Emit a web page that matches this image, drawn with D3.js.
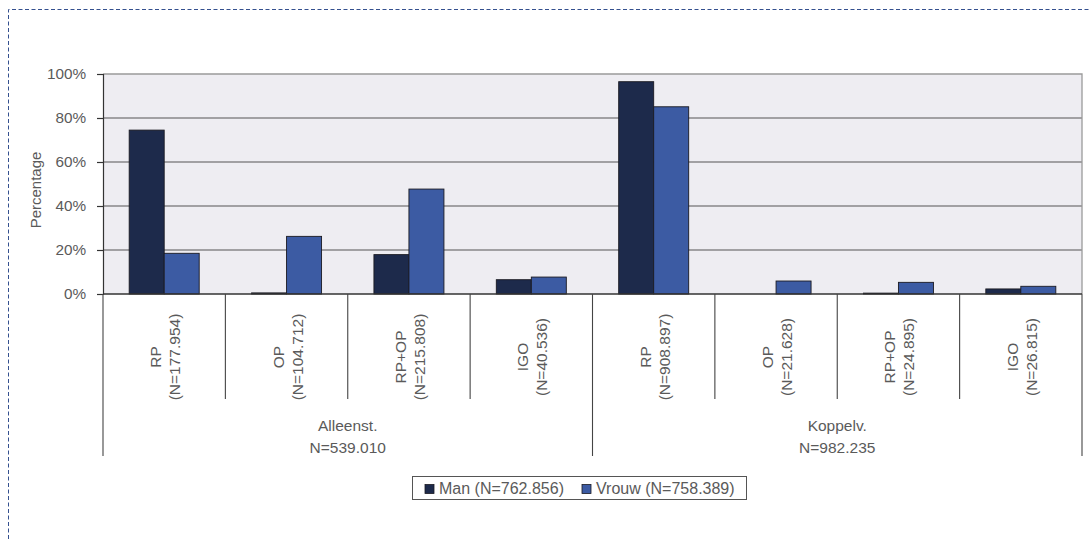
<!DOCTYPE html>
<html>
<head>
<meta charset="utf-8">
<script src="https://cdn.jsdelivr.net/npm/d3@7"></script>
<style>
  html, body { margin: 0; padding: 0; background: #fff; }
  svg { display: block; }
  text { font-family: "Liberation Sans", Arial, sans-serif; fill: #5a5a5a; }
</style>
</head>
<body>
<svg id="chart" width="1090" height="539"></svg>
<script>
// Household groups and their totals
const groups = ["Alleenst.", "Koppelv."];
const groupTotals = ["N=539.010", "N=982.235"];
// Pension types per group
const pensionTypes = ["RP", "OP", "RP+OP", "IGO"];
const categoryTotals = ["(N=177.954)", "(N=104.712)", "(N=215.808)", "(N=40.536)",
                        "(N=908.897)", "(N=21.628)", "(N=24.895)", "(N=26.815)"];
// Percentages per series, in category order
const manValues   = [74.5, 0.5, 17.9, 6.5, 96.5, 0.0, 0.4, 2.3];
const vrouwValues = [18.5, 26.2, 47.7, 7.7, 85.1, 5.9, 5.3, 3.5];
const seriesNames = ["Man (N=762.856)", "Vrouw (N=758.389)"];
const seriesColors = ["#1d2a4b", "#3c5ba3"];
const yTicks = [0, 20, 40, 60, 80, 100];

const categories = [];
groups.forEach((g, gi) => pensionTypes.forEach((t, ti) => {
  const i = gi * pensionTypes.length + ti;
  categories.push({ key: g + "|" + t, group: g, type: t, total: categoryTotals[i],
                    values: [manValues[i], vrouwValues[i]] });
}));

const svg = d3.select("#chart");
const plotLeft = 103, plotRight = 1082, plotTop = 74, plotBottom = 294;

// Dashed frame
svg.append("path")
  .attr("d", "M8.5,539 V9.5 H1090")
  .attr("fill", "none")
  .attr("stroke", "#34508f")
  .attr("stroke-width", 1)
  .attr("stroke-dasharray", "4,2.5");

const x = d3.scaleBand().domain(categories.map(d => d.key)).range([plotLeft, plotRight]);
const bw = x.bandwidth();
const xInner = d3.scaleBand().domain([0, 1]).range([bw * 0.214, bw * 0.786]);
const y = d3.scaleLinear().domain([0, 100]).range([plotBottom, plotTop]);

// Plot background
svg.append("rect")
  .attr("x", plotLeft).attr("y", plotTop)
  .attr("width", plotRight - plotLeft).attr("height", plotBottom - plotTop)
  .attr("fill", "#eeedf2");

// Gridlines
svg.append("g").selectAll("line")
  .data(yTicks.filter(v => v > 0 && v < 100))
  .join("line")
  .attr("x1", plotLeft).attr("x2", plotRight)
  .attr("y1", d => y(d)).attr("y2", d => y(d))
  .attr("stroke", "#555")
  .attr("stroke-width", 1.2);

// Top and right plot border
svg.append("path")
  .attr("d", `M${plotLeft},${y(100)} H${plotRight} V${plotBottom}`)
  .attr("fill", "none")
  .attr("stroke", "#9a9a9a")
  .attr("stroke-width", 1.3);

// Bars
const catG = svg.append("g").selectAll("g")
  .data(categories)
  .join("g")
  .attr("transform", d => `translate(${x(d.key)},0)`);

catG.selectAll("rect")
  .data(d => d.values.map((v, i) => ({ v, i })))
  .join("rect")
  .attr("x", d => xInner(d.i))
  .attr("y", d => y(d.v))
  .attr("width", xInner.bandwidth())
  .attr("height", d => y(0) - y(d.v))
  .attr("fill", d => seriesColors[d.i])
  .attr("stroke", "#1a1a22")
  .attr("stroke-width", d => d.v > 0 ? 0.9 : 0);

// Y axis
const yAxis = svg.append("g")
  .attr("transform", `translate(${plotLeft},0)`)
  .call(d3.axisLeft(y).tickValues(yTicks).tickFormat(d => d + "%").tickSize(6).tickPadding(11));
yAxis.select(".domain").attr("stroke", "#333").attr("stroke-width", 1.2);
yAxis.selectAll(".tick line").attr("stroke", "#333").attr("stroke-width", 1.2);
yAxis.selectAll(".tick text")
  .attr("fill", "#5a5a5a")
  .style("font-size", "15.3px")
  .style("font-family", "'Liberation Sans', Arial, sans-serif");

svg.append("text")
  .attr("transform", "translate(41,190) rotate(-90)")
  .attr("text-anchor", "middle")
  .style("font-size", "15px")
  .text("Percentage");

// Baseline
svg.append("line")
  .attr("x1", plotLeft).attr("x2", plotRight)
  .attr("y1", plotBottom).attr("y2", plotBottom)
  .attr("stroke", "#333").attr("stroke-width", 1.3);

// Category separators below the axis
const bounds = x.domain().map(k => x(k)).concat([plotRight]);
svg.append("g").selectAll("line")
  .data(bounds.map((bx, i) => ({ bx, long: i % pensionTypes.length === 0 })))
  .join("line")
  .attr("x1", d => d.bx).attr("x2", d => d.bx)
  .attr("y1", plotBottom)
  .attr("y2", d => d.long ? 456 : 399)
  .attr("stroke", "#444")
  .attr("stroke-width", 1.1);

// Category labels (rotated, two lines)
svg.append("g").selectAll("text")
  .data(categories)
  .join("text")
  .attr("transform", d => `translate(${x(d.key) + bw / 2},357) rotate(-90)`)
  .attr("text-anchor", "middle")
  .style("font-size", "15.5px")
  .each(function (d) {
    const t = d3.select(this);
    t.append("tspan").attr("x", 0).attr("dy", -3).text(d.type);
    t.append("tspan").attr("x", 0).attr("dy", 19).text(d.total);
  });

// Group labels
svg.append("g").selectAll("text")
  .data(groups)
  .join("text")
  .attr("x", (g, i) => (bounds[i * 4] + bounds[i * 4 + 4]) / 2)
  .attr("y", 431)
  .attr("text-anchor", "middle")
  .style("font-size", "15.5px")
  .each(function (g, i) {
    const t = d3.select(this);
    t.append("tspan").attr("x", t.attr("x")).attr("dy", 0).text(g);
    t.append("tspan").attr("x", t.attr("x")).attr("dy", 22).text(groupTotals[i]);
  });

// Legend
const legend = svg.append("g");
legend.append("rect")
  .attr("x", 412.5).attr("y", 476.5)
  .attr("width", 334).attr("height", 23)
  .attr("fill", "#fff")
  .attr("stroke", "#555").attr("stroke-width", 1);
const legendX = [425, 582];
seriesNames.forEach((name, i) => {
  legend.append("rect")
    .attr("x", legendX[i]).attr("y", 484.5)
    .attr("width", 9).attr("height", 9)
    .attr("fill", seriesColors[i])
    .attr("stroke", "#1a1a22").attr("stroke-width", 0.8);
  legend.append("text")
    .attr("x", legendX[i] + 14).attr("y", 494)
    .style("font-size", "16px")
    .text(name);
});
</script>
</body>
</html>
